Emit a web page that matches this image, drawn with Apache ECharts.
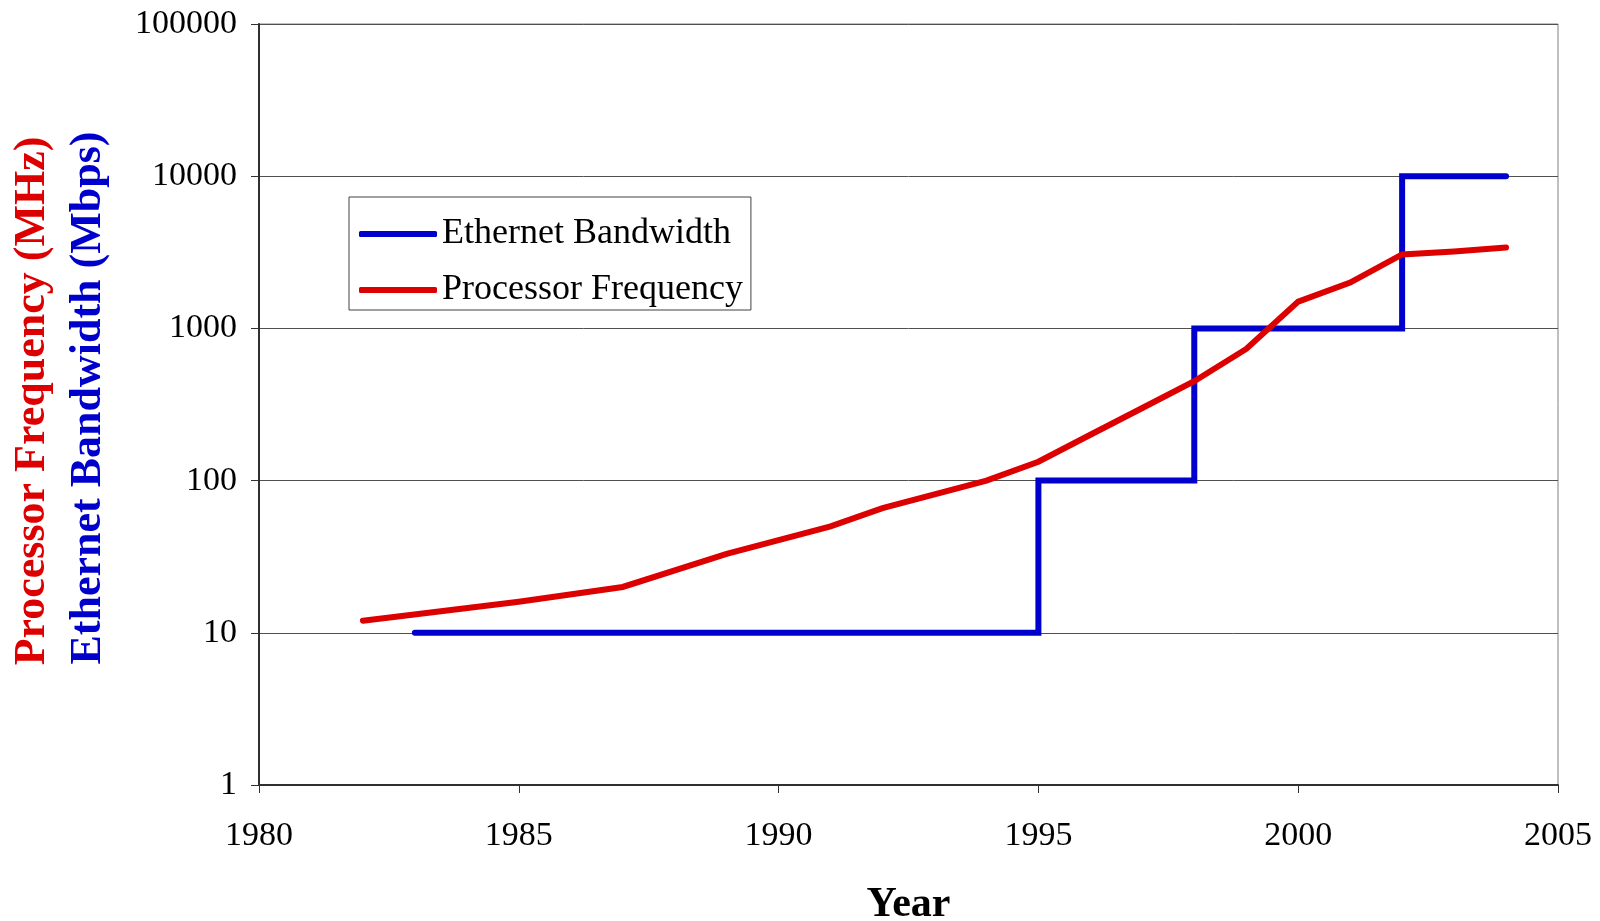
<!DOCTYPE html>
<html>
<head>
<meta charset="utf-8">
<title>Processor Frequency and Ethernet Bandwidth</title>
<script src="https://cdn.jsdelivr.net/npm/echarts@6/dist/echarts.min.js"></script>
<style>
  html, body { margin: 0; padding: 0; background: #ffffff; }
  #chart { width: 1600px; height: 921px; }
</style>
</head>
<body>
<div id="chart"></div>
<script>
// Intel processor clock speed by year (MHz)
const cpuYears  = [1982, 1985, 1987, 1989, 1991, 1992, 1994, 1995, 1996, 1997, 1998, 1999, 2000, 2001, 2002, 2003, 2004];
const cpuMHz    = [12, 16, 20, 33, 50, 66, 100, 133, 200, 300, 450, 733, 1500, 2000, 3060, 3200, 3400];

// Ethernet standard bandwidth, each value holds until the next year listed (Mbps)
const ethYears  = [1983, 1995, 1998, 2002, 2004];
const ethMbps   = [10, 100, 1000, 10000, 10000];

const xTicks = [1980, 1985, 1990, 1995, 2000, 2005];
const yTicks = [1, 10, 100, 1000, 10000, 100000];

const SERIF = '"Liberation Serif", "Times New Roman", "DejaVu Serif", serif';
const RED = '#dd0000';
const BLUE = '#0000cc';

const chart = echarts.init(document.getElementById('chart'));

chart.setOption({
  backgroundColor: '#ffffff',
  animation: false,
  grid: {
    left: 259, right: 42, top: 24, bottom: 136,
    outerBoundsMode: 'none',
    containLabel: false,
    show: true, borderColor: '#808080', borderWidth: 1, backgroundColor: 'transparent'
  },
  legend: {
    orient: 'vertical',
    left: 349, top: 197,
    padding: [19, 8, 2, 10],
    itemGap: 20,
    itemWidth: 78, itemHeight: 6,
    icon: 'roundRect',
    backgroundColor: '#ffffff',
    borderColor: '#404040', borderWidth: 1, borderRadius: 0,
    textStyle: { fontFamily: SERIF, fontSize: 36, color: '#000000' },
    data: ['Ethernet Bandwidth', 'Processor Frequency']
  },
  xAxis: {
    type: 'value',
    min: xTicks[0], max: xTicks[xTicks.length - 1], interval: 5,
    name: 'Year',
    nameLocation: 'middle',
    nameGap: 99,
    nameTextStyle: { fontFamily: SERIF, fontSize: 42, fontWeight: 'bold', color: '#000000' },
    axisLine: { show: true, onZero: false, lineStyle: { color: '#303030', width: 2 } },
    axisTick: { show: true, inside: false, length: 8, lineStyle: { color: '#303030', width: 1 } },
    axisLabel: {
      margin: 34, fontFamily: SERIF, fontSize: 34, color: '#000000',
      formatter: v => String(v)
    },
    splitLine: { show: false }
  },
  yAxis: {
    type: 'log',
    logBase: 10,
    min: yTicks[0], max: yTicks[yTicks.length - 1],
    axisLine: { show: true, lineStyle: { color: '#303030', width: 2 } },
    axisTick: { show: true, inside: false, length: 8, lineStyle: { color: '#303030', width: 1 } },
    axisLabel: {
      margin: 22, fontFamily: SERIF, fontSize: 34, color: '#000000',
      formatter: v => String(Math.round(v))
    },
    splitLine: { show: true, lineStyle: { color: '#505050', width: 1 } },
    minorTick: { show: false }
  },
  series: [
    {
      name: 'Ethernet Bandwidth',
      type: 'line',
      step: 'end',
      data: ethYears.map((y, i) => [y, ethMbps[i]]),
      showSymbol: false,
      symbol: 'none',
      color: BLUE,
      lineStyle: { color: BLUE, width: 6, cap: 'round', join: 'miter' },
      z: 3
    },
    {
      name: 'Processor Frequency',
      type: 'line',
      data: cpuYears.map((y, i) => [y, cpuMHz[i]]),
      showSymbol: false,
      symbol: 'none',
      color: RED,
      lineStyle: { color: RED, width: 6, cap: 'round', join: 'miter' },
      z: 4
    }
  ],
  graphic: [
    {
      type: 'text',
      x: 33, y: 401,
      rotation: Math.PI / 2,
      style: {
        text: 'Processor Frequency (MHz)',
        fontFamily: SERIF, fontSize: 44, fontWeight: 'bold',
        fill: RED, align: 'center', verticalAlign: 'middle'
      }
    },
    {
      type: 'text',
      x: 89, y: 398,
      rotation: Math.PI / 2,
      style: {
        text: 'Ethernet Bandwidth (Mbps)',
        fontFamily: SERIF, fontSize: 44, fontWeight: 'bold',
        fill: BLUE, align: 'center', verticalAlign: 'middle'
      }
    }
  ]
});
</script>
</body>
</html>
